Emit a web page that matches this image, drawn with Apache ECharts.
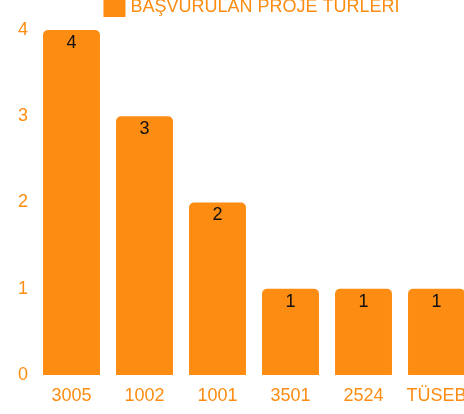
<!DOCTYPE html>
<html>
<head>
<meta charset="utf-8">
<script src="https://cdn.jsdelivr.net/npm/echarts@6/dist/echarts.min.js"></script>
<style>
  html, body { margin: 0; padding: 0; overflow: hidden; background: #fff; }
  #chart { width: 503px; height: 414px; }
</style>
</head>
<body>
<div id="chart"></div>
<script>
// veriler
const categories = ['3005', '1002', '1001', '3501', '2524', 'TÜSEB'];
const counts = [4, 3, 2, 1, 1, 1];
const seriesName = 'BAŞVURULAN PROJE TÜRLERİ';

const orange = '#fd8c12';
const font = 'Liberation Sans, Arial, sans-serif';

const chart = echarts.init(document.getElementById('chart'));
chart.setOption({
  animation: false,
  textStyle: { fontFamily: font },
  legend: {
    top: -8,
    left: 'center',
    itemWidth: 22,
    itemHeight: 20,
    icon: 'rect',
    textStyle: { color: orange, fontSize: 18, fontFamily: font },
    data: [seriesName]
  },
  grid: { left: 35, right: 30, top: 30, bottom: 39 },
  xAxis: {
    type: 'category',
    data: categories,
    axisLine: { show: false },
    axisTick: { show: false },
    axisLabel: { color: orange, fontSize: 18, margin: 12, interval: 0 }
  },
  yAxis: {
    type: 'value',
    min: 0,
    max: 4,
    interval: 1,
    splitLine: { show: false },
    axisLine: { show: false },
    axisTick: { show: false },
    axisLabel: { color: orange, fontSize: 18, margin: 7 }
  },
  series: [{
    name: seriesName,
    type: 'bar',
    data: counts,
    barCategoryGap: '22%',
    itemStyle: { color: orange, borderRadius: [5, 5, 0, 0] },
    label: {
      show: true,
      position: 'insideTop',
      distance: 4,
      color: '#111',
      fontSize: 18
    }
  }]
});
</script>
</body>
</html>
